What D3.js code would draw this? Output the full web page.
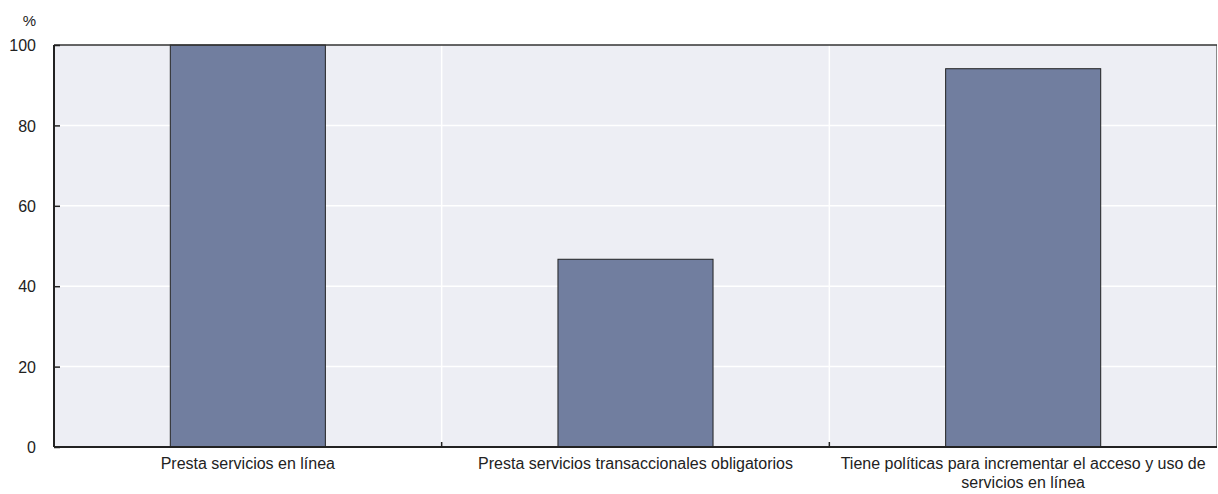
<!DOCTYPE html>
<html><head><meta charset="utf-8">
<script src="https://cdn.jsdelivr.net/npm/d3@7"></script>
<style>body{margin:0;background:#fff}svg{display:block}text{font-family:"Liberation Sans",Arial,sans-serif}</style>
</head><body><svg id="c" width="1218" height="494"></svg>
<script>
const categories = ["Presta servicios en línea", "Presta servicios transaccionales obligatorios", "Tiene políticas para incrementar el acceso y uso de servicios en línea"];
const categoryLines = [["Presta servicios en línea"], ["Presta servicios transaccionales obligatorios"], ["Tiene políticas para incrementar el acceso y uso de", "servicios en línea"]];
const values = [100, 46.7, 94.1];
const yTicks = [0, 20, 40, 60, 80, 100];
const yUnit = "%";

const svg = d3.select("#c");
const m = {l: 54, r: 1217, t: 45, b: 447};
const x = d3.scaleBand().domain(categories).range([m.l, m.r]).paddingInner(0).paddingOuter(0);
const y = d3.scaleLinear().domain([0, 100]).range([m.b, m.t]);
const FS = 16;

svg.append("rect").attr("x", m.l).attr("y", m.t).attr("width", m.r - m.l).attr("height", m.b - m.t).attr("fill", "#edeef4");
svg.selectAll(".hg").data(yTicks.filter(d => d > 0 && d < 100)).enter().append("line")
  .attr("x1", m.l).attr("x2", m.r).attr("y1", d => y(d)).attr("y2", d => y(d))
  .attr("stroke", "#fff").attr("stroke-width", 1.5);
const bounds = categories.slice(1).map(c => x(c));
svg.selectAll(".vg").data(bounds).enter().append("line")
  .attr("x1", d => d).attr("x2", d => d).attr("y1", m.t).attr("y2", m.b)
  .attr("stroke", "#fff").attr("stroke-width", 1.5);
svg.append("line").attr("x1", m.r - 0.5).attr("x2", m.r - 0.5).attr("y1", m.t).attr("y2", m.b).attr("stroke", "#8a8a8a").attr("stroke-width", 1);

const bw = x.bandwidth() * 0.4;
svg.selectAll(".bar").data(values).enter().append("rect")
  .attr("x", (d, i) => x(categories[i]) + (x.bandwidth() - bw) / 2)
  .attr("y", d => y(d))
  .attr("width", bw)
  .attr("height", d => y(0) - y(d))
  .attr("fill", "#717e9f").attr("stroke", "#222").attr("stroke-width", 1);

svg.append("line").attr("x1", m.l).attr("x2", m.r).attr("y1", m.t).attr("y2", m.t).attr("stroke", "#333").attr("stroke-width", 1.5);

const ya = svg.append("g").attr("transform", `translate(${m.l},0)`)
  .call(d3.axisLeft(y).tickValues(yTicks).tickSize(-6).tickPadding(18).tickFormat(d3.format("d")));
ya.select(".domain").attr("stroke", "#222").attr("stroke-width", 2).attr("d", `M0,${m.t}V${m.b}`);
ya.selectAll(".tick line").attr("stroke", "#222").attr("stroke-width", 1.5);
ya.selectAll(".tick text").attr("font-size", FS).attr("fill", "#222").attr("font-family", "Liberation Sans, Arial, sans-serif").attr("dy", "0.35em");
svg.append("text").attr("x", 36).attr("y", 26).attr("text-anchor", "end").attr("font-size", FS - 1).attr("fill", "#222").text(yUnit);

svg.append("line").attr("x1", m.l).attr("x2", m.r).attr("y1", m.b).attr("y2", m.b).attr("stroke", "#222").attr("stroke-width", 2);
svg.selectAll(".xt").data(bounds).enter().append("line")
  .attr("x1", d => d).attr("x2", d => d).attr("y1", m.b).attr("y2", m.b - 5)
  .attr("stroke", "#222").attr("stroke-width", 1.5);

categories.forEach((c, i) => {
  const t = svg.append("text").attr("x", x(c) + x.bandwidth() / 2).attr("y", 469)
    .attr("text-anchor", "middle").attr("font-size", FS).attr("fill", "#222");
  categoryLines[i].forEach((ln, j) => {
    t.append("tspan").attr("x", x(c) + x.bandwidth() / 2).attr("dy", j === 0 ? 0 : 19).text(ln);
  });
});
</script></body></html>
